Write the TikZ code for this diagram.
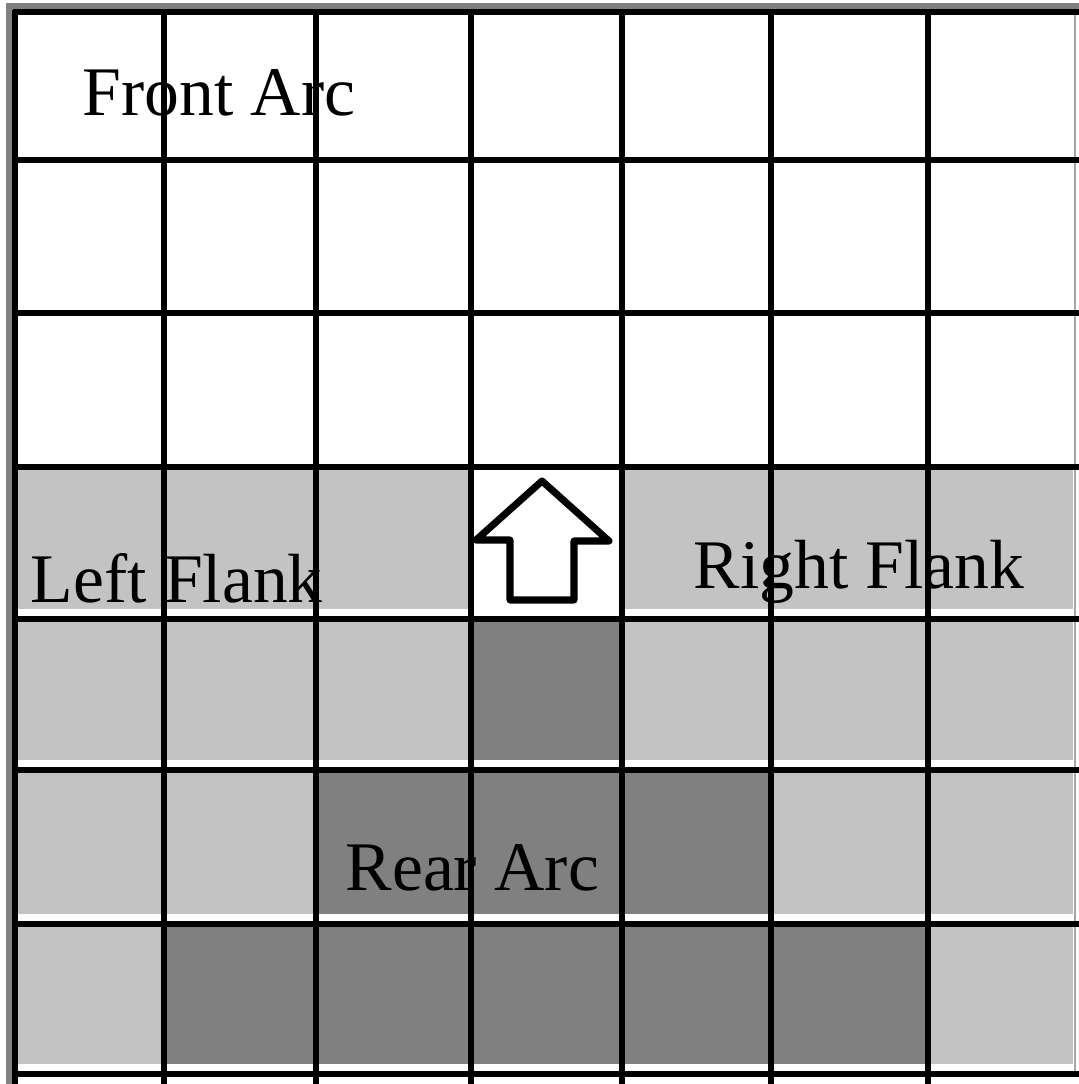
\documentclass[tikz,border=0pt]{standalone}
\usepackage{fontspec}
\setmainfont{Liberation Serif}
\usepackage{tikz}
\definecolor{flankgray}{HTML}{C3C3C3}
\definecolor{reargray}{HTML}{808080}
\def\colx{{15,164,316,471,622,771,928,1075}}
\def\rowy{{12,160,313,467,619,770,924,1074}}

\begin{document}
\begin{tikzpicture}[x=0.01cm,y=-0.01cm,
  arclabel/.style={anchor=base west,inner sep=0pt,font=\fontsize{19.8}{24}\selectfont},
  gridline/.style={line width=1.45pt},
  flank/.style={fill=flankgray},
  rear/.style={fill=reargray}]
  \useasboundingbox (0,0) rectangle (1079,1084);
  % outer frame
  \fill[reargray] (6,3) rectangle (1079,10);
  \fill[reargray] (6,3) rectangle (13,1084);
  \draw[gray!70,line width=0.6pt] (1075,10) -- (1075,1074);
  % flank cells
  \foreach \c/\r in {0/3,1/3,2/3,4/3,5/3,6/3,0/4,1/4,2/4,4/4,5/4,6/4,0/5,1/5,5/5,6/5,0/6,6/6}{
    \pgfmathsetmacro{\xa}{\colx[\c]+3}
    \pgfmathsetmacro{\xb}{\colx[\c+1]-2}
    \pgfmathsetmacro{\ya}{\rowy[\r]+3}
    \pgfmathsetmacro{\yb}{\rowy[\r+1]-10}
    \fill[flank] (\xa,\ya) rectangle (\xb,\yb);
  }
  % rear cells
  \foreach \c/\r in {3/4,2/5,3/5,4/5,1/6,2/6,3/6,4/6,5/6}{
    \pgfmathsetmacro{\xa}{\colx[\c]+3}
    \pgfmathsetmacro{\xb}{\colx[\c+1]-2}
    \pgfmathsetmacro{\ya}{\rowy[\r]+3}
    \pgfmathsetmacro{\yb}{\rowy[\r+1]-10}
    \fill[rear] (\xa,\ya) rectangle (\xb,\yb);
  }
  % labels
  \node[arclabel] (front) at (82,115) {Front Arc};
  \node[arclabel] (leftflank) at (30,602) {Left Flank};
  \node[arclabel] (rightflank) at (693,588) {Right Flank};
  \node[arclabel] (reararc) at (345,890) {Rear Arc};
  % facing arrow
  \draw[line width=2pt,fill=white,line join=round]
    (542,481) -- (609,541) -- (574,541) -- (574,600) -- (510,600)
    -- (510,540) -- (476,540) -- cycle;
  % grid
  \foreach \x in {15,164,316,471,622,771,928}
    \draw[gridline] (\x,10) -- (\x,1084);
  \foreach \y in {12,160,313,467,619,770,924,1074}
    \draw[gridline] (13,\y) -- (1079,\y);
\end{tikzpicture}
\end{document}
